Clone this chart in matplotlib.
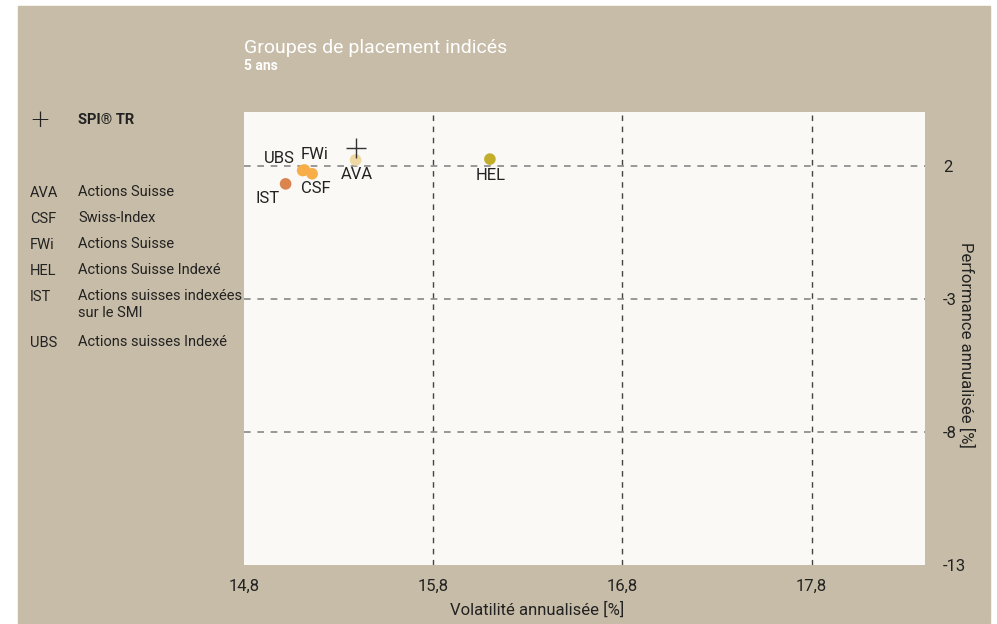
import matplotlib.pyplot as plt

# données
codes = ['AVA', 'CSF', 'FWi', 'HEL', 'IST', 'UBS']
noms = ['Actions Suisse', 'Swiss-Index', 'Actions Suisse', 'Actions Suisse Indexé',
        'Actions suisses indexées\nsur le SMI', 'Actions suisses Indexé']
volatilite = [15.39, 15.16, 15.12, 16.10, 15.02, 15.11]
performance = [2.22, 1.70, 1.84, 2.25, 1.32, 1.82]
couleurs = ['#F0D8A2', '#F8AE48', '#F8AE48', '#C3AE2C', '#DC844E', '#F8AE48']
# décalage des étiquettes (pixels)
decalages = [(1, -15), (4, -15), (10, 16), (1, -16), (-18, -15), (-23, 12)]

spi_vol = 15.39
spi_perf = 2.65

xticks = [14.8, 15.8, 16.8, 17.8]
yticks = [2, -3, -8, -13]

plt.rcParams['font.family'] = ['Roboto', 'DejaVu Sans']

beige = '#C7BCA7'
fig = plt.figure(figsize=(9.97, 6.24), dpi=100)
fig.patch.set_facecolor('white')
fig.patches.append(plt.Rectangle((18 / 997, 1 - 623 / 624), 972 / 997, 617 / 624,
                                 transform=fig.transFigure, color=beige, zorder=-10))

ax = fig.add_axes([244 / 997, 59 / 624, 681 / 997, 453 / 624])
ax.set_facecolor('#FAF9F6')
ax.set_xlim(14.8, 18.4)
ax.set_ylim(-13, 4.02)
for s in ax.spines.values():
    s.set_visible(False)

for x in xticks[1:]:
    ax.axvline(x, color='#444444', lw=1, ls=(0, (4, 4)), zorder=1)
for y in yticks[:-1]:
    ax.axhline(y, color='#888888', lw=1.2, ls=(0, (4, 4)), zorder=1)

ax.set_xticks(xticks)
ax.set_xticklabels([str(v).replace('.', ',') for v in xticks], fontsize=12, color='#222222')
ax.set_yticks(yticks)
ax.set_yticklabels([str(v) for v in yticks], fontsize=12, color='#222222')
ax.yaxis.tick_right()
ax.tick_params(axis='x', length=0, pad=10)
ax.tick_params(axis='y', length=0, pad=13)

ax.set_xlabel('Volatilité annualisée [%]', fontsize=12, color='#222222')
ax.xaxis.set_label_coords(0.43, -0.08)
ax.yaxis.set_label_position('right')
ax.set_ylabel('Performance annualisée [%]', fontsize=12, color='#222222',
              rotation=-90, va='center')
ax.yaxis.set_label_coords(1.06, 0.485)

ax.scatter(volatilite, performance, s=70, c=couleurs, zorder=3, linewidths=0)
ax.plot(spi_vol, spi_perf, marker='+', ms=15, mew=1, color='#333333', zorder=4)
for c, x, y, d in zip(codes, volatilite, performance, decalages):
    ax.annotate(c, (x, y), xytext=d, textcoords='offset pixels', ha='center',
                va='center', fontsize=12, color='#222222', zorder=5)

fig.text(244 / 997, 1 - 48 / 624, 'Groupes de placement indicés', fontsize=14,
         color='white', va='center')
fig.text(244 / 997, 1 - 66 / 624, '5 ans', fontsize=10, color='white',
         fontweight='bold', va='center')

# légende à gauche
fig.text(40 / 997, 1 - 120 / 624, '+', fontsize=18, color='#222222',
         ha='center', va='center', family='DejaVu Sans', fontweight='light')
fig.text(78 / 997, 1 - 120 / 624, 'SPI® TR', fontsize=10.5, color='#222222',
         fontweight='bold', va='center')
rangs = [193, 219, 245, 271, 297, 343]
for c, n, r in zip(codes, noms, rangs):
    fig.text(30 / 997, 1 - r / 624, c, fontsize=10.5, color='#222222', va='center')
    fig.text(78 / 997, 1 - (r - 8) / 624, n, fontsize=10.5, color='#222222', va='top',
             linespacing=1.25)

fig.savefig('out.png', dpi=100)
